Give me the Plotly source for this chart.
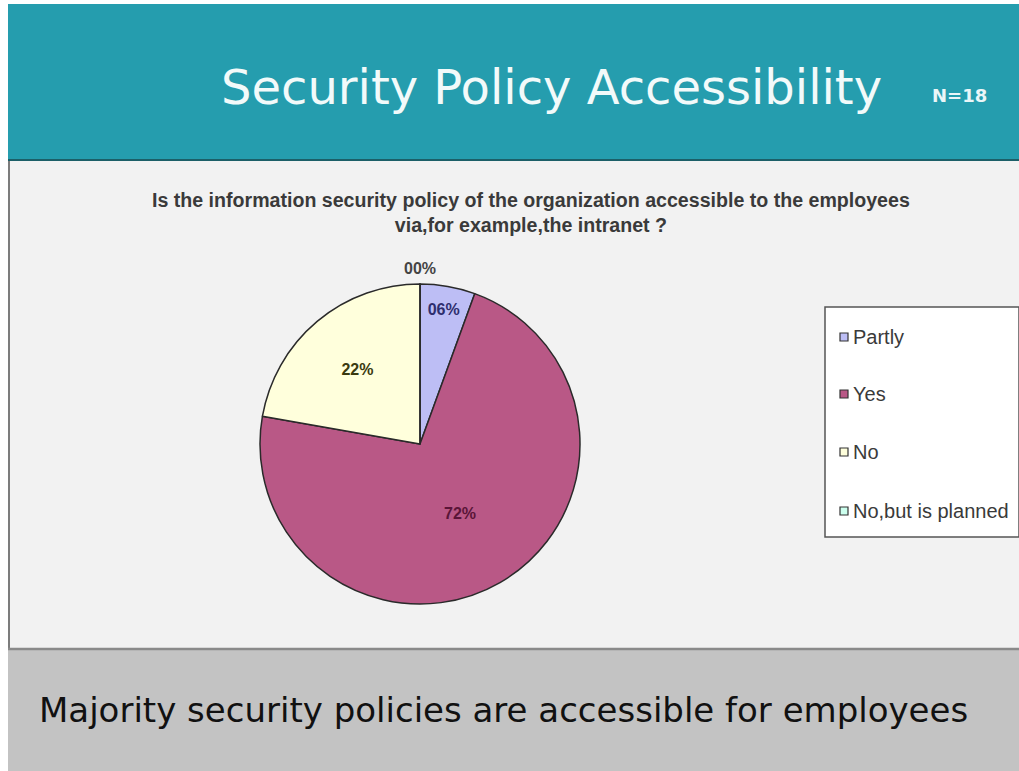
import plotly.graph_objects as go

# ---- data ----
categories = ["Partly", "Yes", "No", "No,but is planned"]
counts = [1, 13, 4, 0]
pct_labels = ["06%", "72%", "22%", "00%"]
slice_colors = ["#BDBEF5", "#B95886", "#FFFFDC", "#CCFFEE"]
label_colors = ["#2E2E6E", "#5A1538", "#3A3A10", "#444444"]

title = "Security Policy Accessibility"
n_note = "N=18"
question = "Is the information security policy of the organization accessible to the employees<br>via,for example,the intranet ?"
conclusion = "Majority security policies are accessible for employees"

W, H = 1019, 771

def px(x):
    return x / W

def py(y):
    return 1 - y / H

fig = go.Figure()

fig.add_trace(go.Pie(
    labels=categories,
    values=counts,
    text=pct_labels,
    texttemplate="%{text}",
    textposition="inside",
    insidetextorientation="horizontal",
    textfont=dict(family="Liberation Sans, Arial", size=16, color=label_colors, weight="bold"),
    marker=dict(colors=slice_colors, line=dict(color="#2a2a2a", width=1.5)),
    sort=False,
    direction="clockwise",
    rotation=0,
    showlegend=False,
    hoverinfo="label+percent",
    domain=dict(x=[px(260), px(580)], y=[py(604), py(284)]),
))

shapes = []
# header band
shapes.append(dict(type="rect", xref="paper", yref="paper", x0=px(8), x1=1, y0=py(160), y1=py(4),
                   fillcolor="#259DAE", line=dict(width=0), layer="below"))
shapes.append(dict(type="line", xref="paper", yref="paper", x0=px(8), x1=1, y0=py(160), y1=py(160),
                   line=dict(color="#1C5F68", width=2), layer="below"))
# chart area
shapes.append(dict(type="rect", xref="paper", yref="paper", x0=px(8), x1=1, y0=py(648), y1=py(161),
                   fillcolor="#F2F2F2", line=dict(width=0), layer="below"))
shapes.append(dict(type="line", xref="paper", yref="paper", x0=px(9), x1=px(9), y0=py(648), y1=py(161),
                   line=dict(color="#555555", width=1.5), layer="below"))
# bottom band
shapes.append(dict(type="rect", xref="paper", yref="paper", x0=px(8), x1=1, y0=0, y1=py(649),
                   fillcolor="#C3C3C3", line=dict(width=0), layer="below"))
shapes.append(dict(type="line", xref="paper", yref="paper", x0=px(8), x1=1, y0=py(649), y1=py(649),
                   line=dict(color="#8A8A8A", width=2.5), layer="below"))

# legend box
lg_x0, lg_x1, lg_y0, lg_y1 = 825, 1019, 307, 537
shapes.append(dict(type="rect", xref="paper", yref="paper", x0=px(lg_x0), x1=px(lg_x1), y0=py(lg_y1), y1=py(lg_y0),
                   fillcolor="#FFFFFF", line=dict(color="#555555", width=1.5)))

annotations = []
legend_y = [337, 394, 452, 511]
for cat, col, yy in zip(categories, slice_colors, legend_y):
    shapes.append(dict(type="rect", xref="paper", yref="paper",
                       x0=px(840), x1=px(848), y0=py(yy + 4), y1=py(yy - 4),
                       fillcolor=col, line=dict(color="#333333", width=1.2)))
    annotations.append(dict(xref="paper", yref="paper", x=px(851), y=py(yy), text=cat,
                            showarrow=False, xanchor="left", yanchor="middle",
                            font=dict(family="Liberation Sans, Arial", size=20, color="#3A3A3A")))

annotations.append(dict(xref="paper", yref="paper", x=px(551), y=py(87), text=title, showarrow=False,
                        xanchor="center", yanchor="middle",
                        font=dict(family="DejaVu Sans", size=48, color="#F2FAFA")))
annotations.append(dict(xref="paper", yref="paper", x=px(959), y=py(95), text=n_note, showarrow=False,
                        xanchor="center", yanchor="middle",
                        font=dict(family="DejaVu Sans", size=18, color="#EAF6F8", weight="bold")))
annotations.append(dict(xref="paper", yref="paper", x=px(531), y=py(212), text=question, showarrow=False,
                        xanchor="center", yanchor="middle",
                        font=dict(family="Liberation Sans, Arial", size=19.6, color="#3A3A3A", weight="bold")))
annotations.append(dict(xref="paper", yref="paper", x=px(420), y=py(268), text=pct_labels[3], showarrow=False,
                        xanchor="center", yanchor="middle",
                        font=dict(family="Liberation Sans, Arial", size=16, color="#444444", weight="bold")))
annotations.append(dict(xref="paper", yref="paper", x=px(503), y=py(710), text=conclusion, showarrow=False,
                        xanchor="center", yanchor="middle",
                        font=dict(family="DejaVu Sans", size=34, color="#111111")))

fig.update_layout(
    width=W, height=H,
    margin=dict(l=0, r=0, t=0, b=0),
    paper_bgcolor="#FFFFFF",
    plot_bgcolor="#FFFFFF",
    shapes=shapes,
    annotations=annotations,
    showlegend=False,
)

fig.write_html("out.html")
